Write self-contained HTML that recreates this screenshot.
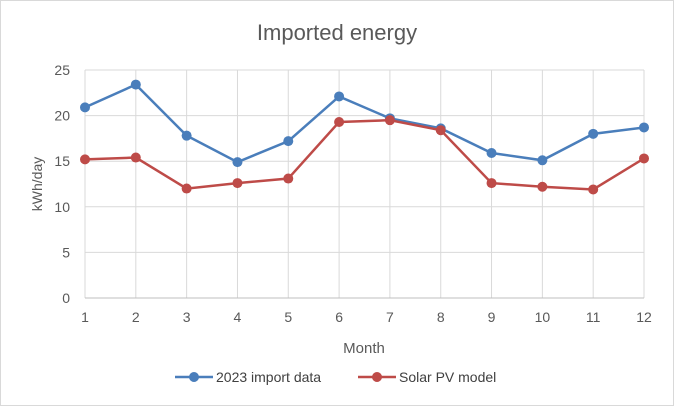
<!DOCTYPE html><html><head><meta charset="utf-8"><style>body{margin:0;background:#fff}svg{display:block;font-family:"Liberation Sans",sans-serif}</style></head><body>
<svg width="674" height="406">
<rect x="0.5" y="0.5" width="673" height="405" fill="#fff" stroke="#d9d9d9"/>
<text x="337" y="40" text-anchor="middle" font-size="22" fill="#595959">Imported energy</text>
<g id="grid"></g><g id="axes"></g><g id="series"></g>
<text x="42" y="184" text-anchor="middle" font-size="14" fill="#595959" transform="rotate(-90 42 184)">kWh/day</text>
<text x="364" y="353" text-anchor="middle" font-size="15" fill="#595959">Month</text>
<g><line x1="175" y1="377" x2="213" y2="377" stroke="#4a7ebb" stroke-width="2.5"/><circle cx="194" cy="377" r="5" fill="#4a7ebb"/><text x="216" y="382" font-size="14" fill="#404040">2023 import data</text></g>
<g><line x1="358" y1="377" x2="396" y2="377" stroke="#be4b48" stroke-width="2.5"/><circle cx="377" cy="377" r="5" fill="#be4b48"/><text x="399" y="382" font-size="14" fill="#404040">Solar PV model</text></g>
</svg>
<script>
const months=[1,2,3,4,5,6,7,8,9,10,11,12];
const importData=[20.9,23.4,17.8,14.9,17.2,22.1,19.7,18.6,15.9,15.1,18.0,18.7];
const solarData=[15.2,15.4,12.0,12.6,13.1,19.3,19.5,18.4,12.6,12.2,11.9,15.3];
const yTicks=[0,5,10,15,20,25];
const NS="http://www.w3.org/2000/svg";
const x=m=>85+(m-1)*(644-85)/11, y=v=>298-v*(298-70)/25;
function mk(p,t,a){const e=document.createElementNS(NS,t);for(const k in a)e.setAttribute(k,a[k]);p.appendChild(e);return e;}
const g=document.getElementById('grid'),ax=document.getElementById('axes'),s=document.getElementById('series');
yTicks.forEach(v=>{const l=mk(g,'line',{x1:85,x2:644,y1:y(v),y2:y(v),stroke:'#d9d9d9'});


const t=mk(ax,'text',{x:70,y:y(v)+5,'text-anchor':'end','font-size':14,fill:'#595959'});t.textContent=v;

});
months.forEach(m=>{const l=mk(g,'line',{x1:x(m),x2:x(m),y1:70,y2:298,stroke:'#d9d9d9'});


const t=mk(ax,'text',{x:x(m),y:322,'text-anchor':'middle','font-size':14,fill:'#595959'});t.textContent=m;

});
const a=mk(ax,'line',{x1:85,x2:644,y1:298,y2:298,stroke:'#bfbfbf'});


[[importData,'#4a7ebb','import'],[solarData,'#be4b48','solar']].forEach(([d,c,n])=>{
const p=mk(s,'polyline',{points:d.map((v,i)=>x(months[i])+','+y(v)).join(' '),fill:'none',stroke:c,'stroke-width':2.5});


d.forEach((v,i)=>{const ci=mk(s,'circle',{cx:x(months[i]),cy:y(v),r:5,fill:c});

});});
</script></body></html>
